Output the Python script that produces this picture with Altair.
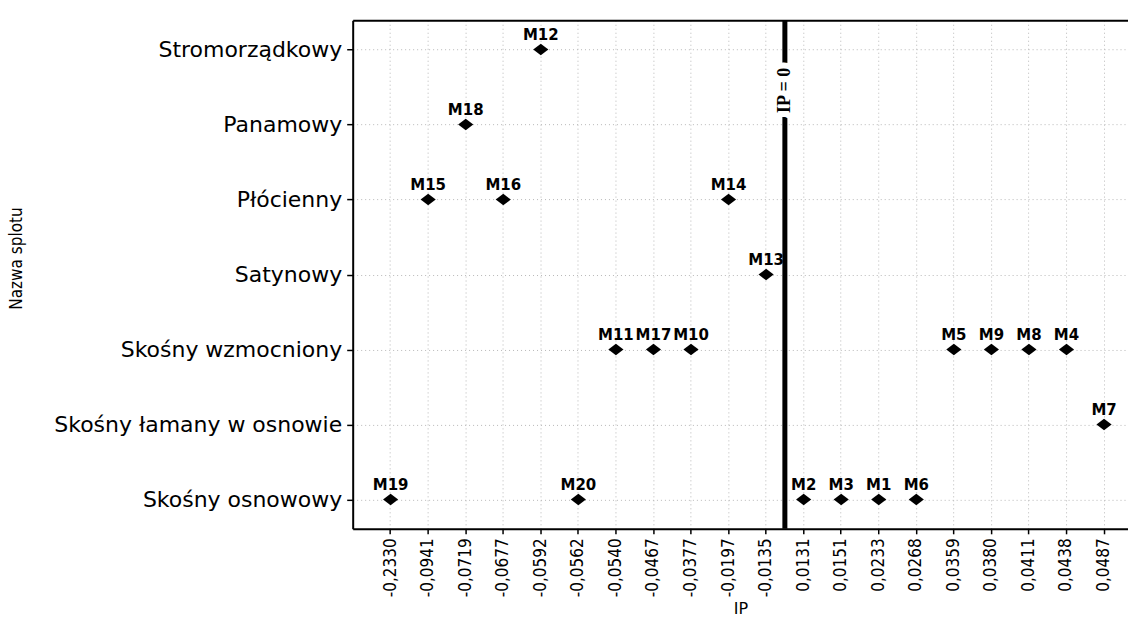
import altair as alt
import pandas as pd

# x categories (IP values, as printed on the axis)
ip_labels = ["-0,2330", "-0,0941", "-0,0719", "-0,0677", "-0,0592", "-0,0562",
             "-0,0540", "-0,0467", "-0,0377", "-0,0197", "-0,0135", "0,0131",
             "0,0151", "0,0233", "0,0268", "0,0359", "0,0380", "0,0411",
             "0,0438", "0,0487"]
# y categories (weave names), top to bottom
weaves = ["Stromorządkowy", "Panamowy", "Płócienny", "Satynowy",
          "Skośny wzmocniony", "Skośny łamany w osnowie", "Skośny osnowowy"]

sample_names = ["M1", "M2", "M3", "M4", "M5", "M6", "M7", "M8", "M9", "M10",
                "M11", "M12", "M13", "M14", "M15", "M16", "M17", "M18", "M19", "M20"]
sample_ip = ["0,0233", "0,0131", "0,0151", "0,0438", "0,0359", "0,0268", "0,0487",
             "0,0411", "0,0380", "-0,0377", "-0,0540", "-0,0592", "-0,0135",
             "-0,0197", "-0,0941", "-0,0677", "-0,0467", "-0,0719", "-0,2330",
             "-0,0562"]
sample_weave = ["Skośny osnowowy", "Skośny osnowowy", "Skośny osnowowy",
                "Skośny wzmocniony", "Skośny wzmocniony", "Skośny osnowowy",
                "Skośny łamany w osnowie", "Skośny wzmocniony", "Skośny wzmocniony",
                "Skośny wzmocniony", "Skośny wzmocniony", "Stromorządkowy",
                "Satynowy", "Płócienny", "Płócienny", "Płócienny",
                "Skośny wzmocniony", "Panamowy", "Skośny osnowowy", "Skośny osnowowy"]

# reference line IP = 0 lies after the last negative category
zero_after = ["-0,0135"]
zero_label = ["IP = 0"]
zero_row = ["Stromorządkowy"]

df = pd.DataFrame({"name": sample_names, "ip": sample_ip, "weave": sample_weave})
df_zero = pd.DataFrame({"after": zero_after, "label": zero_label, "row": zero_row})

xscale = alt.Scale(type="band", domain=ip_labels, paddingInner=0,
                   paddingOuter=0.324, align=0.787)
yscale = alt.Scale(type="point", domain=weaves, padding=0.39)

narrow = "Liberation Sans Narrow, DejaVu Sans Condensed, Liberation Sans, sans-serif"

xaxis = alt.Axis(title="IP", labelAngle=-90, labelAlign="right", labelBaseline="middle",
                 labelFont=narrow, labelFontSize=17, labelColor="black",
                 labelPadding=4, tickSize=5, tickColor="black", tickWidth=1.5,
                 domainColor="black", domainWidth=2, bandPosition=0.5,
                 grid=True, gridColor="#b8b8b8", gridDash=[1, 3], gridWidth=1,
                 titleFont="DejaVu Sans", titleFontSize=16, titleFontWeight="normal",
                 titleColor="black", titlePadding=4)
yaxis = alt.Axis(title="Nazwa splotu", labelFont="DejaVu Sans", labelFontSize=22,
                 labelColor="black", labelPadding=5, tickSize=6, tickColor="black",
                 tickWidth=1.5, domainColor="black", domainWidth=2,
                 grid=True, gridColor="#b8b8b8", gridDash=[1, 3], gridWidth=1,
                 titleFont=narrow, titleFontSize=17, titleFontWeight="normal",
                 titleColor="black", titleX=-327, titleY=238, labelLimit=400)
top_axis = alt.Axis(orient="top", title=None, labels=False, ticks=False, grid=False,
                    domainColor="black", domainWidth=2, minExtent=0, maxExtent=0)

diamond = "M-1,0L0,-0.75L1,0L0,0.75Z"

points = alt.Chart(df).mark_point(shape=diamond, filled=True, color="black",
                                  size=230, opacity=1).encode(
    x=alt.X("ip:N", scale=xscale, axis=xaxis),
    y=alt.Y("weave:N", scale=yscale, axis=yaxis),
)

labels = alt.Chart(df).mark_text(dy=-10, baseline="alphabetic", align="center",
                                 font="DejaVu Sans", fontWeight="bold", fontSize=15,
                                 color="black").encode(
    x=alt.X("ip:N", scale=xscale, axis=None),
    y=alt.Y("weave:N", scale=yscale, axis=None),
    text="name:N",
)

rule = alt.Chart(df_zero).mark_rule(color="black", strokeWidth=5).encode(
    x=alt.X("after:N", bandPosition=1, scale=xscale, axis=top_axis),
)

halo = alt.Chart(df_zero).mark_text(angle=270, dx=-41, align="center", baseline="middle",
                                    font="Liberation Serif", fontWeight="bold",
                                    fontSize=18, color="white", stroke="white",
                                    strokeWidth=12, strokeJoin="round").encode(
    x=alt.X("after:N", bandPosition=1, scale=xscale, axis=None),
    y=alt.Y("row:N", scale=yscale, axis=None),
    text="label:N",
)
zero_text = alt.Chart(df_zero).mark_text(angle=270, dx=-41, align="center",
                                         baseline="middle", font="Liberation Serif",
                                         fontWeight="bold", fontSize=18,
                                         color="black").encode(
    x=alt.X("after:N", bandPosition=1, scale=xscale, axis=None),
    y=alt.Y("row:N", scale=yscale, axis=None),
    text="label:N",
)

chart = alt.layer(points, rule, halo, zero_text, labels).resolve_axis(
    x="independent", y="independent"
).properties(
    width=776, height=509,
    padding={"left": 8, "top": 17, "right": 0, "bottom": 0},
).configure(background="white").configure_view(stroke=None)

chart.save("out.html", embed_options={"renderer": "svg", "actions": False})
